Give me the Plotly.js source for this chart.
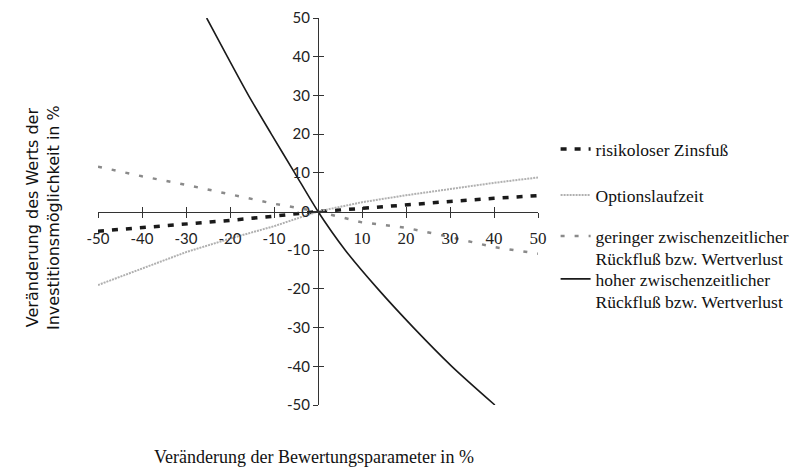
<!DOCTYPE html>
<html>
<head>
<meta charset="utf-8">
<script src="https://cdn.plot.ly/plotly-3.0.1.min.js"></script>
<style>body{margin:0;background:#fff}</style>
</head>
<body>
<div id="chart" style="width:794px;height:468px"></div>
<script>
// Data
const xVals = [-50, -40, -30, -20, -10, 0, 10, 20, 30, 40, 50];
const risikoloserZinsfuss = [-5.1, -4.2, -3.1, -2.3, -1.2, 0, 0.8, 1.8, 2.6, 3.4, 4.1];
const optionslaufzeit = [-19.0, -14.8, -10.5, -7.0, -3.8, 0, 2.4, 4.2, 5.8, 7.4, 8.8];
const geringerRueckfluss = [11.6, 9.1, 6.9, 4.4, 2.0, 0, -2.8, -4.2, -6.6, -9.2, -10.9];
const hoherX = [-25.3, -20.6, -15.8, -10.6, -5.3, 0, 6.2, 13.6, 21.7, 30.4, 40.2];
const hoherRueckfluss = [50, 40, 30, 20, 10, 0, -10, -20, -30, -40, -50];

const xTicks = [-50, -40, -30, -20, -10, 10, 20, 30, 40, 50];
const yTicks = [50, 40, 30, 20, 10, 0, -10, -20, -30, -40, -50];

const names = [
  'risikoloser Zinsfuß',
  'Optionslaufzeit',
  'geringer zwischenzeitlicher<br>Rückfluß bzw. Wertverlust',
  'hoher zwischenzeitlicher<br>Rückfluß bzw. Wertverlust'
];

const traces = [
  {x: xVals, y: risikoloserZinsfuss, name: names[0], mode: 'lines', legend: 'legend',
   line: {color: '#1a1a1a', width: 3.5, dash: '6px,8px'}},
  {x: xVals, y: optionslaufzeit, name: names[1], mode: 'lines', legend: 'legend2',
   line: {color: '#b0b0b0', width: 2, dash: '2px,1px'}},
  {x: xVals, y: geringerRueckfluss, name: names[2], mode: 'lines', legend: 'legend3',
   line: {color: '#8a8a8a', width: 2.5, dash: '4px,10px'}},
  {x: hoherX, y: hoherRueckfluss, name: names[3], mode: 'lines', legend: 'legend4',
   line: {color: '#1a1a1a', width: 1.6, shape: 'spline', smoothing: 0.8}},
  {x: [], y: [], xaxis: 'x2', yaxis: 'y2', showlegend: false, hoverinfo: 'skip'}
];

const sansFont = 'Lato, "DejaVu Sans", sans-serif';
const serifFont = '"Liberation Serif", serif';
const tickFont = {family: sansFont, size: 15, color: '#222'};
const xTickText = xTicks.map(v => v > 0
  ? '<span style="font-family:Liberation Serif;font-size:17px">' + v + '</span>'
  : String(v));

function legendAt(topPx) {
  return {x: 1.04, xanchor: 'left', y: (405 - topPx) / 387, yanchor: 'top', valign: 'top',
    font: {family: serifFont, size: 17.5, color: '#111'}, bgcolor: 'rgba(0,0,0,0)'};
}

const layout = {
  width: 794, height: 468,
  margin: {l: 98, r: 256, t: 18, b: 63, autoexpand: false},
  paper_bgcolor: '#fff', plot_bgcolor: '#fff',
  showlegend: true,
  xaxis: {range: [-50, 50], anchor: 'free', position: 0.5, showgrid: false, zeroline: false,
    showline: true, linecolor: '#333', linewidth: 1, ticks: 'outside', ticklen: 5, tickcolor: '#333',
    tickvals: xTicks, ticktext: xTickText, tickfont: tickFont, ticklabelstandoff: 8},
  yaxis: {range: [-50, 50], anchor: 'free', position: 0.5, showgrid: false, zeroline: false,
    showline: true, linecolor: '#333', linewidth: 1, ticks: 'outside', ticklen: 5, tickcolor: '#333',
    tickvals: yTicks, ticktext: yTicks.map(String), tickfont: tickFont},
  xaxis2: {range: [-50, 50], overlaying: 'x', anchor: 'free', position: 0.5, showgrid: false, zeroline: false,
    showline: false, ticks: 'inside', ticklen: 5, tickcolor: '#333', tickvals: xTicks, showticklabels: false},
  yaxis2: {range: [-50, 50], overlaying: 'y', anchor: 'free', position: 0.5, showgrid: false, zeroline: false,
    showline: false, ticks: 'inside', ticklen: 5, tickcolor: '#333', tickvals: yTicks, showticklabels: false},
  legend: legendAt(131),
  legend2: legendAt(177),
  legend3: legendAt(218),
  legend4: legendAt(261),
  annotations: [
    {text: 'Veränderung der Bewertungsparameter in %', xref: 'paper', yref: 'paper',
     x: (314 - 98) / 440, y: (405 - 457) / 387, xanchor: 'center', yanchor: 'middle', showarrow: false,
     font: {family: serifFont, size: 18, color: '#111'}},
    {text: 'Veränderung des Werts der<br>Investitionsmöglichkeit in %', xref: 'paper', yref: 'paper',
     x: (43 - 98) / 440, y: (405 - 218) / 387, xanchor: 'center', yanchor: 'middle', showarrow: false,
     textangle: -90, font: {family: '"DejaVu Sans", sans-serif', size: 16, color: '#111'}}
  ]
};

Plotly.newPlot('chart', traces, layout, {staticPlot: true, displayModeBar: false});
</script>
</body>
</html>
